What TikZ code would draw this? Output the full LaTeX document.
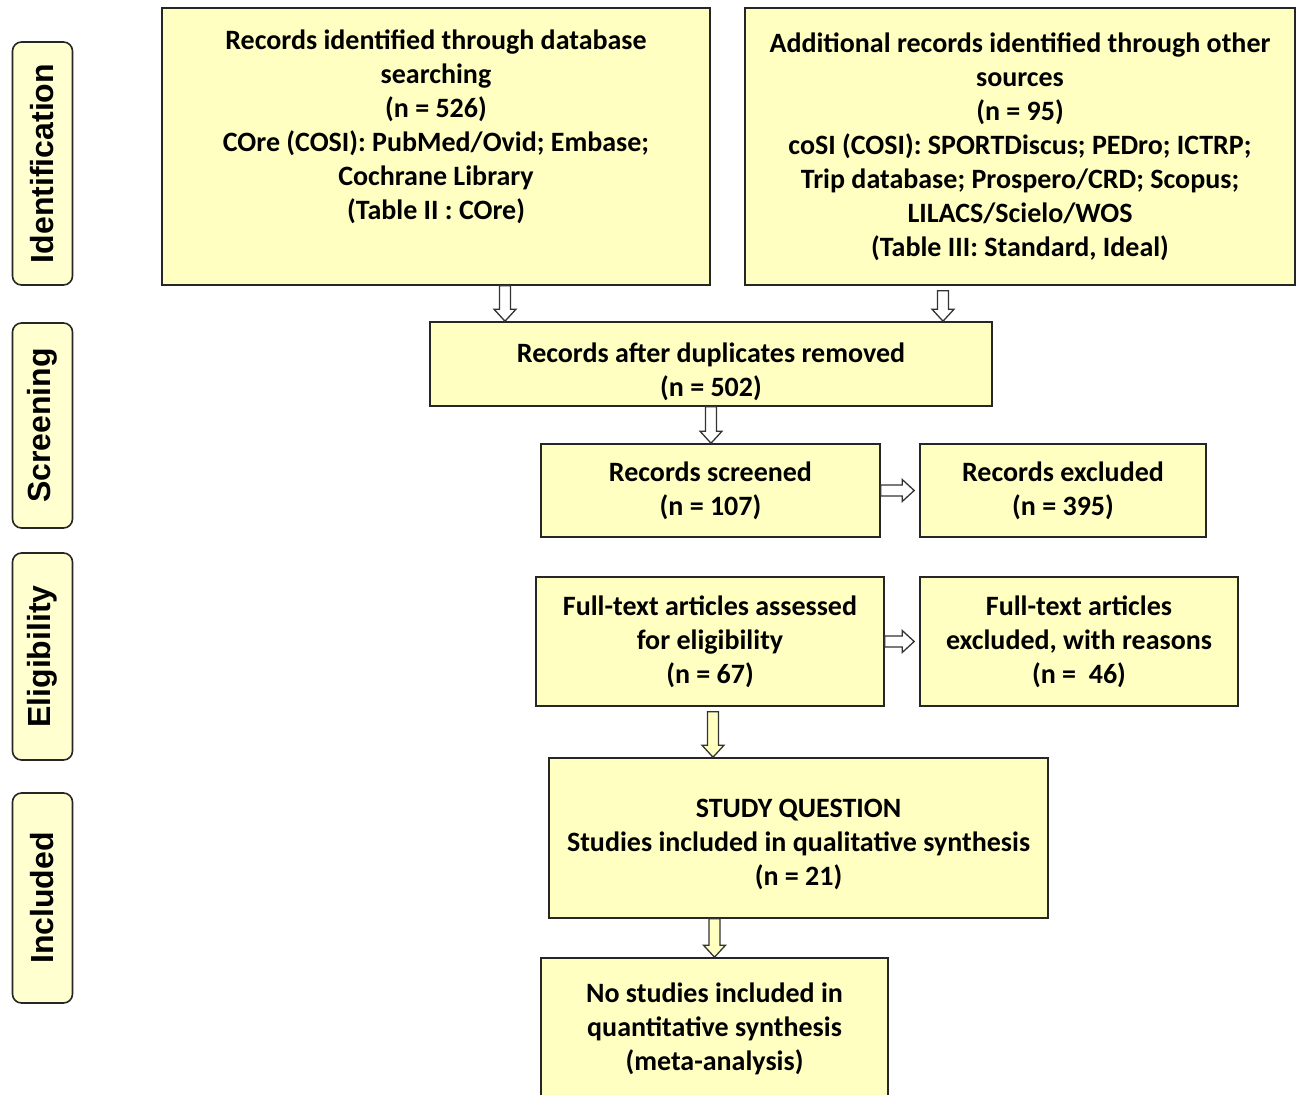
\documentclass[tikz,border=0pt]{standalone}
\usepackage{fontspec}
\setmainfont{Carlito}
\newfontfamily\etiqfont{Liberation Sans}
\usepackage{xcolor}
\usepackage{tikz}
\usetikzlibrary{calc}
\definecolor{amarillo}{RGB}{255,255,194}
\definecolor{amarillopal}{RGB}{255,255,208}

% flecha hueca de bloque entre dos coordenadas con nombre
\newcommand{\flechab}[3][white]{%
  \coordinate (punta) at ($(#3)!12pt!(#2)$);
  \filldraw[flecha,fill=#1]
    ($(#2)!5.5pt!-90:(#3)$) -- ($(punta)!5.5pt!-90:(#3)$) -- ($(punta)!11pt!-90:(#3)$) -- (#3)
    -- ($(punta)!11pt!90:(#3)$) -- ($(punta)!5.5pt!90:(#3)$) -- ($(#2)!5.5pt!90:(#3)$) -- cycle;}

\begin{document}
\begin{tikzpicture}[x=1pt,y=-1pt,
  caja/.style={draw=black!85,line width=1.6pt,fill=amarillo,align=center,inner sep=0pt,
    font=\fontsize{28}{34}\selectfont\bfseries},
  etapa/.style={draw=black!85,line width=1.6pt,fill=amarillopal,rounded corners=9pt,rotate=90,
    minimum height=60pt,inner sep=0pt,font=\etiqfont\fontsize{32}{38}\selectfont\bfseries},
  flecha/.style={draw=black!80,line width=1.3pt,line join=miter}
]
  \useasboundingbox (0,0) rectangle (1296,1095);

  \node[etapa,minimum width=243pt] (ident) at (42.5,163.5) {Identification};
  \node[etapa,minimum width=205pt] (scr)   at (42.5,425.5) {Screening};
  \node[etapa,minimum width=207pt] (eleg)  at (42.5,656.5) {Eligibility};
  \node[etapa,minimum width=210pt] (incl)  at (42.5,898)   {Included};

  \node[caja,minimum width=548pt,minimum height=277pt] (bd) at (436,146.5)
    {Records identified through database\\ searching\\ (n = 526)\\
     COre (COSI): PubMed/Ovid; Embase;\\ Cochrane Library\\ (Table II : COre)\\ \strut};
  \node[caja,minimum width=550pt,minimum height=277pt] (otras) at (1020,146.5)
    {Additional records identified through other\\ sources\\ (n = 95)\\
     coSI (COSI): SPORTDiscus; PEDro; ICTRP;\\ Trip database; Prospero/CRD; Scopus;\\
     LILACS/Scielo/WOS\\ (Table III: Standard, Ideal)};
  \node[caja,minimum width=562pt,minimum height=84pt] (dupl) at (711,364)
    {\rule{0pt}{36pt}Records after duplicates removed\\ (n = 502)};
  \node[caja,minimum width=339pt,minimum height=93pt] (cribado) at (710.5,490.5)
    {Records screened\\ (n = 107)};
  \node[caja,minimum width=286pt,minimum height=93pt] (excl) at (1063,490.5)
    {Records excluded\\ (n = 395)};
  \node[caja,minimum width=348pt,minimum height=129pt] (texto) at (710,641.5)
    {Full-text articles assessed\\ for eligibility\\ (n = 67)};
  \node[caja,minimum width=318pt,minimum height=129pt] (textexcl) at (1079,641.5)
    {Full-text articles\\ excluded, with reasons\\ (n = \ 46)};
  \node[caja,minimum width=499pt,minimum height=160pt] (cual) at (798.5,838)
    {\rule{0pt}{32pt}STUDY QUESTION\\ Studies included in qualitative synthesis\\ (n = 21)};
  \node[caja,minimum width=347pt,minimum height=142pt] (cuant) at (714.5,1029)
    {No studies included in\\ quantitative synthesis\\ (meta-analysis)};

  \coordinate (a1) at ([xshift=69pt]bd.south);
  \coordinate (b1) at ([xshift=69pt]bd.south |- dupl.north);
  \coordinate (a2) at ([xshift=-77pt,yshift=-5pt]otras.south);
  \coordinate (b2) at ([xshift=-77pt]otras.south |- dupl.north);
  \coordinate (a3) at (dupl.south);
  \coordinate (b3) at (dupl.south |- cribado.north);
  \coordinate (a4) at (cribado.east);
  \coordinate (b4) at ([xshift=-5pt]excl.west);
  \coordinate (a5) at (texto.east);
  \coordinate (b5) at ([xshift=-5pt]textexcl.west);
  \coordinate (a6) at ([xshift=3pt,yshift=-5pt]texto.south);
  \coordinate (b6) at ([xshift=3pt]texto.south |- cual.north);
  \coordinate (a7) at (cuant.north |- cual.south);
  \coordinate (b7) at (cuant.north);

  \flechab{a1}{b1}
  \flechab{a2}{b2}
  \flechab{a3}{b3}
  \flechab{a4}{b4}
  \flechab{a5}{b5}
  \flechab[amarillo]{a6}{b6}
  \flechab[amarillo]{a7}{b7}
\end{tikzpicture}
\end{document}
